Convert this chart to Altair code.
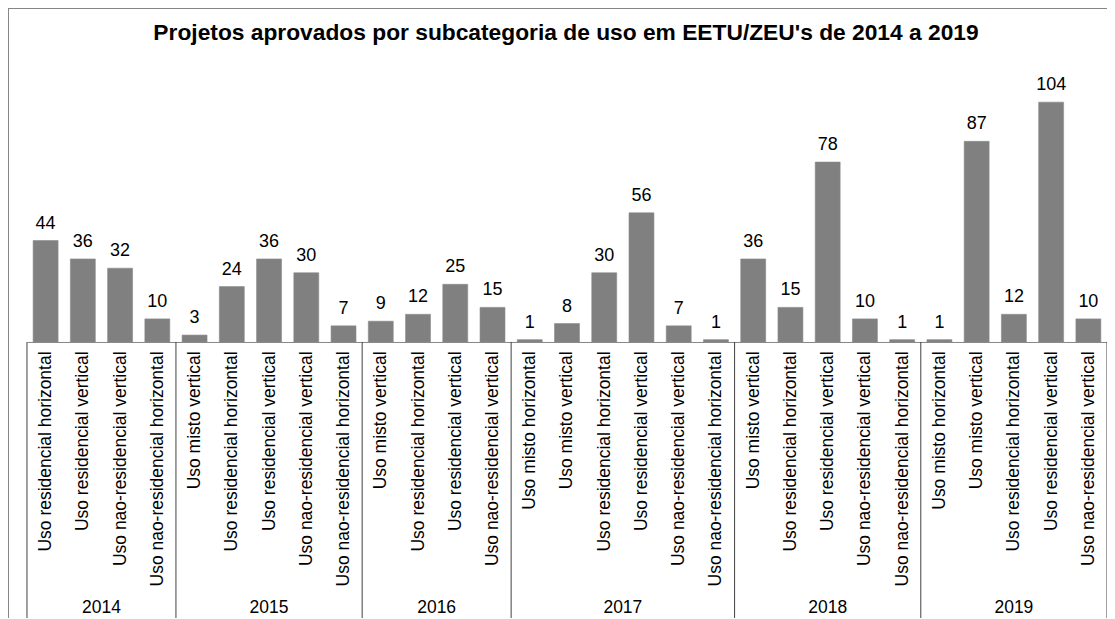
import json
import altair as alt
import pandas as pd

title = "Projetos aprovados por subcategoria de uso em EETU/ZEU's de 2014 a 2019"

years = ["2014", "2015", "2016", "2017", "2018", "2019"]
year_categories = [
    ["Uso residencial horizontal", "Uso residencial vertical", "Uso nao-residencial vertical",
     "Uso nao-residencial horizontal"],
    ["Uso misto vertical", "Uso residencial horizontal", "Uso residencial vertical",
     "Uso nao-residencial vertical", "Uso nao-residencial horizontal"],
    ["Uso misto vertical", "Uso residencial horizontal", "Uso residencial vertical",
     "Uso nao-residencial vertical"],
    ["Uso misto horizontal", "Uso misto vertical", "Uso residencial horizontal",
     "Uso residencial vertical", "Uso nao-residencial vertical", "Uso nao-residencial horizontal"],
    ["Uso misto vertical", "Uso residencial horizontal", "Uso residencial vertical",
     "Uso nao-residencial vertical", "Uso nao-residencial horizontal"],
    ["Uso misto horizontal", "Uso misto vertical", "Uso residencial horizontal",
     "Uso residencial vertical", "Uso nao-residencial vertical"],
]
year_values = [
    [44, 36, 32, 10],
    [3, 24, 36, 30, 7],
    [9, 12, 25, 15],
    [1, 8, 30, 56, 7, 1],
    [36, 15, 78, 10, 1],
    [1, 87, 12, 104, 10],
]

# build tables
rows = []
groups = []
bounds = [0]
idx = 0
for y, cats, vals in zip(years, year_categories, year_values):
    start = idx
    for c, v in zip(cats, vals):
        rows.append({"idx": idx, "year": y, "cat": c, "value": v,
                     "x0": idx + 0.165, "x1": idx + 0.835, "mid": idx + 0.5})
        idx += 1
    groups.append({"year": y, "center": (start + idx) / 2})
    bounds.append(idx)
n = idx
df = pd.DataFrame(rows)
gdf = pd.DataFrame(groups)
bdf = pd.DataFrame({"b": bounds})
tdf = pd.DataFrame({"t": [title]})
labels = [r["cat"] for r in rows]

W = 1081
H = 277
FONT = "Liberation Sans"
BAR = "#808080"
LINE = "#404040"

xscale = alt.Scale(domain=[0, n], nice=False, zero=False)
yscale = alt.Scale(domain=[0, 120], nice=False)

label_expr = json.dumps(labels) + "[floor(datum.value)]"

xaxis = alt.Axis(values=[i + 0.5 for i in range(n)], labelExpr=label_expr,
                 labelAngle=-90, labelFontSize=17.5, labelFont=FONT,
                 labelColor="#000000", ticks=False, grid=False,
                 domainColor="#868686", labelPadding=9, labelOverlap=False,
                 labelLimit=400, title=None)

bars = alt.Chart(df).mark_rect(color=BAR, stroke="#8a8a8a", strokeWidth=0.6).encode(
    x=alt.X("x0:Q", scale=xscale, axis=xaxis),
    x2="x1:Q",
    y=alt.Y("value:Q", scale=yscale, axis=None),
    y2=alt.datum(0),
)

texts = alt.Chart(df).mark_text(baseline="bottom", dy=-8, fontSize=18, font=FONT,
                                color="#000000").encode(
    x=alt.X("mid:Q", scale=xscale, axis=xaxis),
    y=alt.Y("value:Q", scale=yscale, axis=None),
    text="value:Q",
)

year_txt = alt.Chart(gdf).mark_text(baseline="middle", fontSize=17.5, font=FONT,
                                    color="#000000").encode(
    x=alt.X("center:Q", scale=xscale, axis=xaxis),
    y=alt.value(H + 266),
    text="year:N",
)

seps = alt.Chart(bdf).mark_rule(color=LINE, strokeWidth=1).encode(
    x=alt.X("b:Q", scale=xscale, axis=xaxis),
    y=alt.value(H),
    y2=alt.value(H + 300),
)

border_left = alt.Chart(bdf).mark_rule(color="#868686", strokeWidth=1).encode(
    x=alt.value(-19), y=alt.value(-57), y2=alt.value(H + 300)
)
border_top = alt.Chart(bdf).mark_rule(color="#868686", strokeWidth=1).encode(
    x=alt.value(-19), x2=alt.value(W), y=alt.value(-57)
)

title_txt = alt.Chart(tdf).mark_text(fontSize=22.8, fontWeight="bold", font=FONT,
                                     color="#000000", baseline="middle", align="center").encode(
    x=alt.value(W / 2 - 1), y=alt.value(-32), text="t:N"
)

chart = alt.layer(bars, texts, year_txt, seps, border_left, border_top, title_txt).properties(
    width=W,
    height=H,
    autosize=alt.AutoSizeParams(type="none"),
    padding={"left": 19, "top": 57, "right": 0, "bottom": 276},
).configure(background="#ffffff").configure_view(stroke=None).configure_axis(labelOverlap=False)

chart.save("out.html", embed_options={"renderer": "svg", "actions": False})
